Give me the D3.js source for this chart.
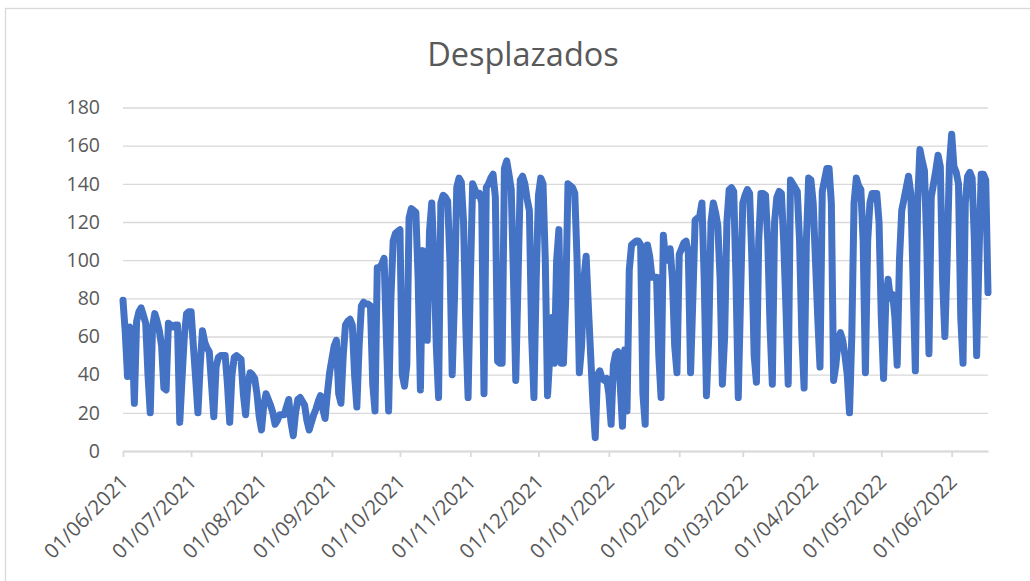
<!DOCTYPE html>
<html>
<head>
<meta charset="utf-8">
<script src="https://cdn.jsdelivr.net/npm/d3@7"></script>
<style>
  body { margin: 0; background: #ffffff; }
  svg text { font-family: "Open Sans", "Noto Sans", sans-serif; fill: #595959; }
</style>
</head>
<body>
<div id="viz"></div>
<script>

/*##############################
#        Chart data            #
###############################*/

var chartTitle = "Desplazados";
var firstDay = "01/06/2021";

// one value per day, month by month
var jun21 = [79,62,39,65,62,25,68,73,75,71,67,40,20,65,72,68,63,55,33,32,67,66,65,66,66,15,38,60,72,73];
var jul21 = [73,55,38,20,45,63,57,54,52,35,18,44,49,50,50,50,35,15,40,49,50,49,48,30,19,35,41,40,38,30,18];
var aug21 = [11,24,30,27,24,20,14,16,19,19,19,23,27,15,8,20,27,28,26,24,16,11,15,19,22,26,29,22,17,30,41];
var sep21 = [48,55,58,30,25,50,66,68,69,66,40,23,55,76,78,77,77,76,35,21,96,96,98,101,60,21,80,110,114,115];
var oct21 = [116,40,34,45,122,127,126,125,90,32,105,80,58,115,130,100,55,28,130,134,133,131,100,40,80,138,143,141,120,65,28];
var nov21 = [90,140,137,134,135,130,30,138,140,143,145,133,47,46,46,148,152,145,137,90,37,90,142,144,140,132,126,60,28,90];
var dec21 = [134,143,140,100,29,50,70,46,100,116,46,46,80,140,139,138,135,100,41,55,90,102,75,50,25,7,40,42,38,37,38];
var jan22 = [30,14,45,51,52,35,13,53,21,95,108,109,110,110,108,30,14,108,102,91,91,91,50,28,113,100,100,106,90,55,41];
var feb22 = [103,106,109,110,104,41,80,121,122,123,130,90,29,60,120,130,125,118,90,35,60,120,137,138,136,90,28,80];
var mar22 = [130,134,137,135,100,50,36,110,135,135,134,110,65,35,120,133,136,135,110,75,35,142,140,138,136,110,60,33,110,143,142];
var apr22 = [130,100,70,44,136,142,148,148,130,37,45,58,62,58,50,40,20,60,130,143,139,137,110,41,110,130,135,135,135,120];
var may22 = [70,38,80,90,80,82,70,45,100,126,132,138,144,135,90,42,130,158,152,147,110,51,133,140,147,155,149,90,60,100,150];
var jun22 = [166,149,146,140,70,46,130,144,146,143,110,50,100,145,145,142,83];

var monthTicks = ["01/06/2021","01/07/2021","01/08/2021","01/09/2021","01/10/2021","01/11/2021","01/12/2021",
                  "01/01/2022","01/02/2022","01/03/2022","01/04/2022","01/05/2022","01/06/2022"];
var yTicks = [0,20,40,60,80,100,120,140,160,180];

/*##############################
#        Draw                  #
###############################*/

var parseDay = d3.timeParse("%d/%m/%Y");

var values = [].concat(jun21, jul21, aug21, sep21, oct21, nov21, dec21, jan22, feb22, mar22, apr22, may22, jun22);
var start = parseDay(firstDay);
var data = values.map(function(v, i) { return { date: d3.timeDay.offset(start, i), value: v }; });

const width = 1030, height = 581;

const svg = d3.select("#viz").append("svg")
    .attr("width", width)
    .attr("height", height);

// chart area border (only left and top are in the picture)
svg.append("rect")
    .attr("x", 5.5).attr("y", 8.5)
    .attr("width", 1100).attr("height", 700)
    .attr("fill", "#ffffff")
    .attr("stroke", "#d9d9d9")
    .attr("stroke-width", 1.3);

var x = d3.scaleTime()
    .domain([start, data[data.length - 1].date])
    .range([123, 988]);

var y = d3.scaleLinear()
    .domain([0, 180])
    .range([451, 107.5]);

// Title
svg.append("text")
    .attr("x", 523)
    .attr("y", 66)
    .attr("text-anchor", "middle")
    .attr("font-size", "32.5px")
    .text(chartTitle);

// gridlines + y labels
var yAxis = svg.append("g")
    .attr("transform", "translate(123,0)")
    .call(d3.axisLeft(y).tickValues(yTicks).tickSize(-(988 - 123)).tickPadding(23));
yAxis.select(".domain").remove();
yAxis.selectAll(".tick line").attr("stroke", "#d9d9d9").attr("stroke-width", 1.3);
yAxis.selectAll(".tick text")
    .attr("font-size", "19.5px")
    .attr("fill", "#595959")
    .attr("font-family", "'Open Sans', sans-serif");

// x axis
var xAxis = svg.append("g")
    .attr("transform", "translate(0," + y(0) + ")")
    .call(d3.axisBottom(x)
        .tickValues(monthTicks.map(parseDay))
        .tickSize(6)
        .tickSizeOuter(0)
        .tickFormat(function(d, i) { return monthTicks[i]; }));
xAxis.select(".domain").attr("stroke", "#d9d9d9").attr("stroke-width", 1.8);
xAxis.selectAll(".tick line").attr("stroke", "#d9d9d9").attr("stroke-width", 1.8);
xAxis.selectAll(".tick text")
    .attr("x", 0).attr("y", 0)
    .attr("dy", "0.35em")
    .attr("text-anchor", "end")
    .attr("transform", "translate(1,27) rotate(-45)")
    .attr("font-size", "20.5px")
    .attr("fill", "#595959")
    .attr("font-family", "'Open Sans', sans-serif");

// the series line
var line = d3.line()
    .x(function(d) { return x(d.date); })
    .y(function(d) { return y(d.value); });

svg.append("path")
    .datum(data)
    .attr("fill", "none")
    .attr("stroke", "#4472C4")
    .attr("stroke-width", 7)
    .attr("stroke-linejoin", "round")
    .attr("stroke-linecap", "round")
    .attr("d", line);

</script>
</body>
</html>
